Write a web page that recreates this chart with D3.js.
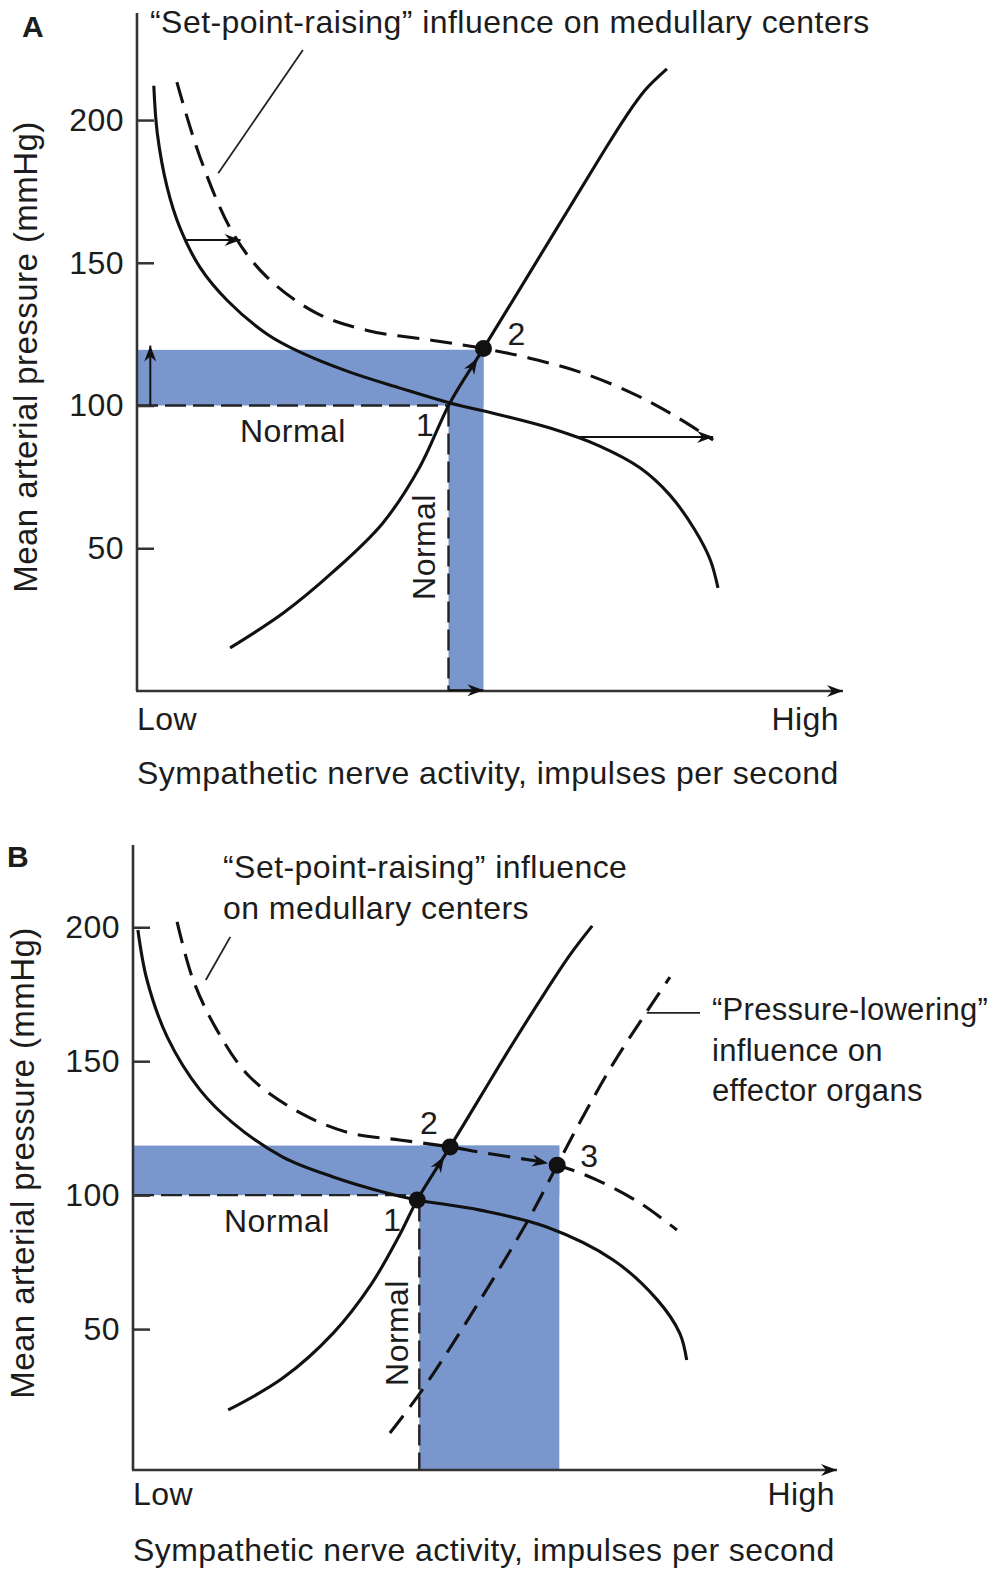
<!DOCTYPE html>
<html><head><meta charset="utf-8">
<script src="https://cdnjs.cloudflare.com/ajax/libs/d3/7.8.5/d3.min.js"></script>
<style>
body{margin:0;background:#fff;}
svg{display:block;}
text{font-family:"Liberation Sans", Arial, Helvetica, sans-serif; fill:#1c1c1c; font-size:32px; letter-spacing:0.45px;}
</style></head><body>
<svg id="chart" width="1003" height="1574"></svg>
<script>
// ---------------- DATA ----------------
const yTicks = [50, 100, 150, 200];
const xEndLabels = ["Low", "High"];
const xTitle = "Sympathetic nerve activity, impulses per second";
const yTitle = "Mean arterial pressure (mmHg)";
const titleA = "\u201CSet-point-raising\u201D influence on medullary centers";
const titleB = ["\u201CSet-point-raising\u201D influence", "on medullary centers"];
const lowerB = ["\u201CPressure-lowering\u201D", "influence on", "effector organs"];
const normalLabel = "Normal";

// activity in relative units (Low = 0 ... High = 100), pressure in mmHg
// Panel A
const aBaroNormal = [[2.4,212],[2.9,195.4],[4.3,176.5],[6.1,162.5],[9.0,148.4],[12.9,136.8],[18.6,125.0],[23.3,118.7],[30.4,111.7],[37.6,106.1],[44.7,100.9],[51.9,96.7],[59.0,92.1],[66.1,85.8],[71.9,78.1],[76.1,68.7],[79.7,56.4],[81.9,45.9],[83.0,36.1]];
const aEffector = [[13.3,15.1],[20.9,27.3],[28.0,41.7],[35.1,58.8],[40.4,78.5],[44.7,100.9],[49.5,120],[56.6,148.5],[61.4,167.8],[66.1,186.7],[69.7,200.7],[72.6,210.5],[75.7,217.9]];
const aBaroRaised = [[5.7,213.3],[9.0,187.0],[13.7,160.4],[18.6,144.9],[25.7,132.3],[32.9,126.3],[42.3,122.8],[49.5,120],[56.1,116.6],[63.3,111.7],[70.4,104.7],[76.1,97.4],[82.3,87.9]];
const aPoints = [[44.7,100.9],[49.5,120]];          // 1, 2
const aDots = [[49.5,120]];
const aBands = [[0,49.5,100,119.5],[44.5,49.5,0,119.5]]; // x0,x1,y0,y1
const aNormalLines = [[[0,100],[44.5,100]],[[44.5,100],[44.5,0]]];
const aShiftArrows = [[[7.0,158],[14.8,158]],[[62.5,89],[82.3,89]],[[1.9,100],[1.9,121]],[[44.5,0.3],[49.5,0.3]]];
const aLeader = [[23.7,224.5],[11.6,181.4]];

// Panel B
const bBaroNormal = [[0.7,199.0],[2.0,180.3],[4.9,159.0],[9.6,139.2],[14.3,126.9],[21.4,114.2],[28.6,106.8],[35.7,101.2],[40.6,98.2],[49.6,94.4],[59.1,88.1],[68.6,75.8],[74.9,60.9],[78.1,48.5],[79.1,38.5]];
const bEffector = [[13.6,19.8],[21.4,31.7],[28.6,48.5],[34.1,67.0],[38.1,85.2],[40.6,98.2],[45.3,118.0],[49.6,136.6],[54.3,156.8],[58.9,175.8],[62.4,189.6],[65.6,200.5]];
const bBaroRaised = [[6.3,202.0],[8.6,180.3],[12.0,161.6],[16.7,144.1],[23.9,130.7],[31.0,123.2],[38.1,120.6],[45.3,118.0],[49.6,116.0],[56.7,113.1],[60.6,111.2],[66.3,105.6],[72.4,97.1],[77.7,87.0]];
const bEffectorLowered = [[36.7,11.2],[41.0,26.1],[47.1,50.4],[56.3,90.0],[60.6,111.2],[63.9,127.5],[68.6,149.1],[72.9,166.5],[76.7,181.4]];
const bPoints = [[40.6,98.2],[45.3,118.0],[60.6,111.2]];   // 1, 2, 3
const bDots = [[40.6,98.2],[45.3,118.0],[60.6,111.2]];
const bBands = [[0,60.9,100,118.5],[40.9,60.9,-2.6,118.5]];
const bNormalLines = [[[0,100],[40,100]],[[40.9,98],[40.9,-2.6]]];
const bShiftArrows = [];
const bDirArrows = [[[56.7,113.1],[59.3,111.9]]];
const bLeaders = [[[13.9,196.4],[10.4,180.3]],[[73.4,168],[81,168]]];

// ---------------- DRAW ----------------
const svg = d3.select("#chart");
const BLUE = "#7a97cd", INK = "#111";

const defs = svg.append("defs");
defs.append("marker").attr("id","ah").attr("viewBox","-17 -7 19 14")
  .attr("markerWidth",19).attr("markerHeight",14).attr("refX",0).attr("refY",0)
  .attr("orient","auto").attr("markerUnits","userSpaceOnUse")
  .append("path").attr("d","M0,0 L-16,-6 L-11,0 L-16,6Z").attr("fill",INK);

function panel(cfg){
  const g = svg.append("g");
  const x = d3.scaleLinear().domain([0,100]).range([cfg.left, cfg.right]);
  const y = d3.scaleLinear().domain(cfg.yDomain).range([cfg.bottom, cfg.top]);
  const line = d3.line().x(d=>x(d[0])).y(d=>y(d[1]));
  const curve = d3.line().x(d=>x(d[0])).y(d=>y(d[1])).curve(d3.curveCatmullRom.alpha(0.5));

  // bands
  g.selectAll("rect.band").data(cfg.bands).join("rect")
    .attr("x", d=>x(d[0])).attr("width", d=>x(d[1])-x(d[0]))
    .attr("y", d=>y(d[3])).attr("height", d=>y(d[2])-y(d[3]))
    .attr("fill", BLUE);

  // normal dashed lines
  g.selectAll("path.nl").data(cfg.normalLines).join("path")
    .attr("d", line).attr("fill","none").attr("stroke","#222").attr("stroke-width",2.4)
    .attr("stroke-dasharray","21,7");

  // axes
  g.append("line").attr("x1",cfg.left).attr("x2",cfg.left).attr("y1",cfg.bottom).attr("y2",cfg.top)
    .attr("stroke","#333").attr("stroke-width",2.6);
  g.append("line").attr("x1",cfg.left-1).attr("x2",cfg.arrowEnd).attr("y1",cfg.bottom).attr("y2",cfg.bottom)
    .attr("stroke","#333").attr("stroke-width",2.6).attr("marker-end","url(#ah)");
  const ax = g.append("g").attr("transform",`translate(${cfg.left},0)`)
    .call(d3.axisLeft(y).tickValues(yTicks).tickSize(-17).tickPadding(13).tickFormat(d3.format("d")));
  ax.select(".domain").remove();
  ax.attr("font-size",null).attr("font-family",null);
  ax.selectAll(".tick line").attr("stroke","#333").attr("stroke-width",2.5);
  ax.selectAll(".tick text").attr("fill","#1c1c1c");

  // curves
  cfg.solid.forEach(c=>g.append("path").attr("d",curve(c)).attr("fill","none").attr("stroke",INK).attr("stroke-width",3.1));
  cfg.dashed.forEach(c=>g.append("path").attr("d",curve(c)).attr("fill","none").attr("stroke",INK).attr("stroke-width",3.1).attr("stroke-dasharray","22,11"));

  // arrows
  cfg.shiftArrows.forEach(a=>g.append("path").attr("d",line(a)).attr("stroke",INK).attr("stroke-width",2).attr("fill","none").attr("marker-end","url(#ah)"));
  cfg.dirArrows.forEach(a=>g.append("path").attr("d",line(a)).attr("stroke","none").attr("fill","none").attr("marker-end","url(#ah)"));
  // direction arrow on segment 1 -> 2
  const p1 = cfg.points[0], p2 = cfg.points[1];
  const t = 0.82;
  g.append("path").attr("d", line([p1,[p1[0]+(p2[0]-p1[0])*t, p1[1]+(p2[1]-p1[1])*t]]))
    .attr("stroke","none").attr("fill","none").attr("marker-end","url(#ah)");

  // leaders
  cfg.leaders.forEach(l=>g.append("path").attr("d",line(l)).attr("stroke","#222").attr("stroke-width",1.8).attr("fill","none"));

  // dots
  g.selectAll("circle.dot").data(cfg.dots).join("circle")
    .attr("cx",d=>x(d[0])).attr("cy",d=>y(d[1])).attr("r",8.5).attr("fill",INK);

  // point labels
  cfg.points.forEach((p,i)=>{
    const o = cfg.pointLabelOffsets[i];
    g.append("text").attr("x",x(p[0])+o[0]).attr("y",y(p[1])+o[1]).text(String(i+1));
  });

  // texts
  g.append("text").attr("x",cfg.letterPos[0]).attr("y",cfg.letterPos[1]).style("font-weight","bold").style("font-size","30px").style("letter-spacing","0px").text(cfg.letter);
  cfg.titleLines.forEach((tl,i)=>g.append("text").attr("x",cfg.titlePos[0]).attr("y",cfg.titlePos[1]+i*41).text(tl));
  g.append("text").attr("transform",`translate(${cfg.yTitlePos[0]},${cfg.yTitlePos[1]}) rotate(-90)`).attr("text-anchor","middle").style("font-size","33px").text(yTitle);
  g.append("text").attr("x",cfg.left).attr("y",cfg.lowHighY).text(xEndLabels[0]);
  g.append("text").attr("x",cfg.right+2).attr("y",cfg.lowHighY).attr("text-anchor","end").text(xEndLabels[1]);
  g.append("text").attr("x",cfg.left).attr("y",cfg.xTitleY).text(xTitle);
  g.append("text").attr("x",cfg.normalH[0]).attr("y",cfg.normalH[1]).text(normalLabel);
  g.append("text").attr("transform",`translate(${cfg.normalV[0]},${cfg.normalV[1]}) rotate(-90)`).attr("text-anchor","middle").text(normalLabel);
  (cfg.extraLines||[]).forEach((tl,i)=>g.append("text").attr("x",cfg.extraPos[0]).attr("y",cfg.extraPos[1]+i*40.5).style("font-size","31px").style("letter-spacing","0.3px").text(tl));
}

panel({
  left:137, right:837, top:13, bottom:691, arrowEnd:843, yDomain:[0,237.5],
  bands:aBands, normalLines:aNormalLines,
  solid:[aBaroNormal,aEffector], dashed:[aBaroRaised],
  shiftArrows:aShiftArrows, dirArrows:[], points:aPoints, dots:aDots,
  leaders:[aLeader], pointLabelOffsets:[[-34,33],[24,-3]],
  letter:"A", letterPos:[22,37], titleLines:[titleA], titlePos:[150,33],
  yTitlePos:[37,357], lowHighY:730, xTitleY:784, normalH:[240,442], normalV:[435,547]
});
panel({
  left:133, right:833, top:845, bottom:1470, arrowEnd:837, yDomain:[-2.6,230.7],
  bands:bBands, normalLines:bNormalLines,
  solid:[bBaroNormal,bEffector], dashed:[bBaroRaised,bEffectorLowered],
  shiftArrows:bShiftArrows, dirArrows:bDirArrows, points:bPoints, dots:bDots,
  leaders:bLeaders, pointLabelOffsets:[[-34,31],[-30,-13],[23,2]],
  letter:"B", letterPos:[7,867], titleLines:titleB, titlePos:[223,878],
  yTitlePos:[34,1163], lowHighY:1505, xTitleY:1561, normalH:[224,1232], normalV:[408,1333],
  extraLines:lowerB, extraPos:[712,1020]
});
</script></body></html>
